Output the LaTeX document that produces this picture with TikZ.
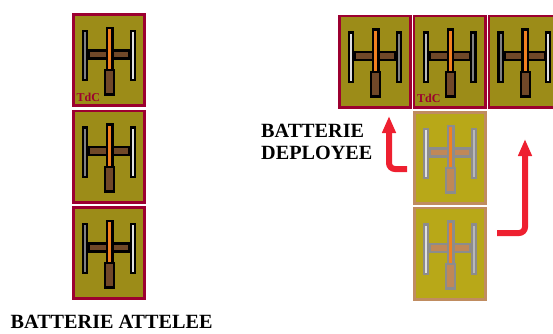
\documentclass[tikz,border=0pt]{standalone}
\usepackage{fontspec}
\setmainfont{Liberation Serif}
\usetikzlibrary{arrows.meta}
\definecolor{olive}{HTML}{9C8C18}
\definecolor{crim}{HTML}{9C0030}
\definecolor{pale}{HTML}{B8A818}
\definecolor{paleedge}{HTML}{C08C60}
\definecolor{brownbar}{HTML}{704828}
\definecolor{palebrown}{HTML}{C08858}
\definecolor{orangebar}{HTML}{F08020}
\definecolor{redarrow}{HTML}{EE2030}
\definecolor{greybar}{HTML}{808080}
\definecolor{lightbar}{HTML}{B8B8B8}
\definecolor{whitebar}{HTML}{E0E0E0}
\definecolor{palegrey}{HTML}{8C8C8C}
\tikzset{
  x=1pt,y=-1pt,
  battery/.style={draw=crim,line width=2.6pt,fill=olive,minimum width=71.4pt,minimum height=91.4pt,inner sep=0pt,outer sep=0pt},
  palebattery/.style={battery,draw=paleedge,fill=pale},
  redpath/.style={draw=redarrow,line width=6pt,rounded corners=6pt,-{Triangle[length=17pt,width=13pt]}},
  caption/.style={font=\bfseries\fontsize{20.2}{22}\selectfont,inner sep=0pt,align=left,text=black},
  tdc/.style={font=\bfseries\fontsize{12}{12}\selectfont,text=crim,inner sep=0pt},
  pics/gun/.style n args={5}{code={
    % #1 dark, #2 brown, #3 left bar, #4 right bar, #5 orange
    \fill[#1] (-27.2,-30.2) rectangle (-20.8,21.2);
    \fill[#1] (20.5,-30.2) rectangle (26.9,21.2);
    \fill[#1] (-21,-11) rectangle (21,-0.4);
    \fill[#1] (-3.2,-33.2) rectangle (4.5,10);
    \fill[#1] (-4.9,9) rectangle (6.2,36);
    \fill[#3] (-25,-28) rectangle (-23,19);
    \fill[#4] (22.7,-28) rectangle (24.7,19);
    \fill[#2] (-19,-8.3) rectangle (-3.2,-2.9);
    \fill[#2] (4.5,-8.3) rectangle (19.3,-2.9);
    \fill[#5] (-0.8,-31) rectangle (2.1,9);
    \fill[#2] (-2.7,11.2) rectangle (4,33.2);
  }}
}
\begin{document}
\begin{tikzpicture}
\useasboundingbox (0,0) rectangle (553,333);
\begin{scope}
\clip (0,0) rectangle (553,333);
\node[battery] (L1) at (109,60) {};
\node[battery] (L2) at (109,156.5) {};
\node[battery] (L3) at (109,253) {};
\node[battery] (R1) at (375,61.5) {};
\node[battery] (R2) at (449.7,61.5) {};
\node[battery] (R3) at (524.5,61.5) {};
\node[palebattery] (P1) at (450,158) {};
\node[palebattery] (P2) at (450,253.5) {};
\pic at (L1) {gun={black}{brownbar}{greybar}{whitebar}{orangebar}};
\pic at (L2) {gun={black}{brownbar}{greybar}{whitebar}{orangebar}};
\pic at (L3) {gun={black}{brownbar}{greybar}{whitebar}{orangebar}};
\pic at (R1) {gun={black}{brownbar}{whitebar}{greybar}{orangebar}};
\pic at (R2) {gun={black}{brownbar}{lightbar}{greybar}{orangebar}};
\pic at (R3) {gun={black}{brownbar}{greybar}{whitebar}{orangebar}};
\pic at (P1) {gun={palegrey}{palebrown}{whitebar}{lightbar}{orangebar}};
\pic at (P2) {gun={palegrey}{palebrown}{whitebar}{lightbar}{orangebar}};
\end{scope}
\node[tdc,anchor=base west] (T1) at (76.5,101.7) {TdC};
\node[tdc,anchor=base west] (T2) at (417,102.3) {TdC};
\node[caption,anchor=base west] (C1) at (261,159) {BATTERIE\\DEPLOYEE};
\node[font=\bfseries\fontsize{20.2}{22}\selectfont,inner sep=0pt,anchor=base west] (C2) at (10.5,328.5) {BATTERIE ATTELEE};
\coordinate (a1s) at (407,169);
\coordinate (a1e) at (389,116);
\coordinate (a2s) at (497,233);
\coordinate (a2e) at (525,139);
\draw[redpath] (a1s) -| (a1e);
\draw[redpath] (a2s) -| (a2e);
\end{tikzpicture}
\end{document}
